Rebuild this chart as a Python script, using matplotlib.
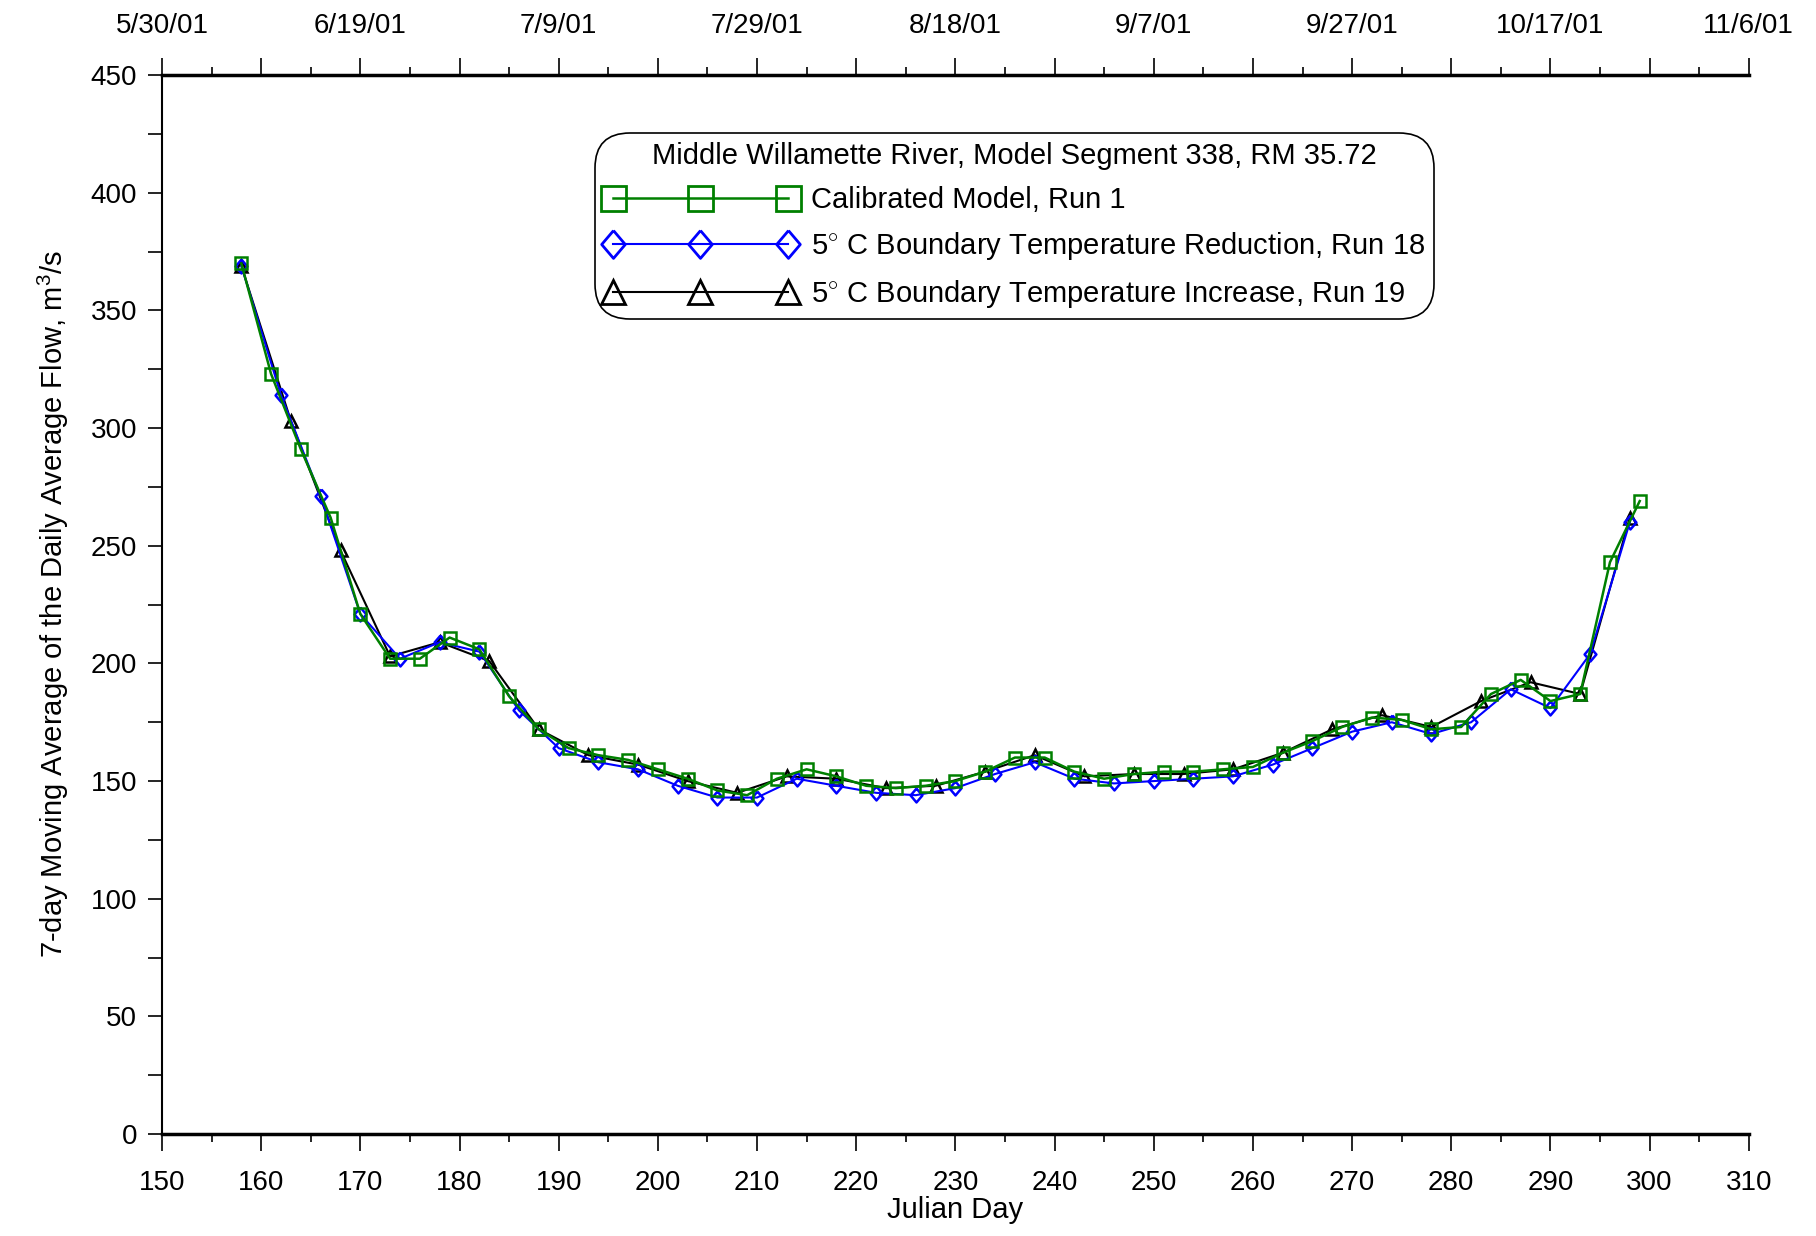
import datetime
import matplotlib
matplotlib.use("Agg")
import matplotlib.pyplot as plt
from matplotlib.lines import Line2D
from matplotlib.ticker import MultipleLocator, FuncFormatter

plt.rcParams["font.family"] = ["Liberation Sans", "DejaVu Sans"]
plt.rcParams["mathtext.fontset"] = "custom"
plt.rcParams["mathtext.rm"] = "Liberation Sans"

# Calibrated model, run 1 (green squares)
calib_days = [158, 161, 164, 167, 170, 173, 176, 179, 182, 185, 188, 191, 194,
              197, 200, 203, 206, 209, 212, 215, 218, 221, 224, 227, 230, 233,
              236, 239, 242, 245, 248, 251, 254, 257, 260, 263, 266, 269, 272,
              275, 278, 281, 284, 287, 290, 293, 296, 299]
calib_flow = [370, 323, 291, 262, 221, 202, 202, 211, 206, 186, 172, 164, 161,
              159, 155, 151, 146, 144, 151, 155, 152, 148, 147, 148, 150, 154,
              160, 160, 154, 151, 153, 154, 154, 155, 156, 162, 167, 173, 177,
              176, 172, 173, 187, 193, 184, 187, 243, 269]

# 5 C boundary temperature reduction, run 18 (blue diamonds)
cold_days = [158, 162, 166, 170, 174, 178, 182, 186, 190, 194, 198, 202, 206,
             210, 214, 218, 222, 226, 230, 234, 238, 242, 246, 250, 254, 258,
             262, 266, 270, 274, 278, 282, 286, 290, 294, 298]
cold_flow = [369, 314, 271, 221, 202, 209, 205, 180, 164, 158, 155, 148, 143,
             143, 151, 148, 145, 144, 147, 153, 158, 151, 149, 150, 151, 152,
             157, 164, 171, 175, 170, 175, 189, 181, 204, 260]

# 5 C boundary temperature increase, run 19 (black triangles)
warm_days = [158, 163, 168, 173, 178, 183, 188, 193, 198, 203, 208, 213, 218,
             223, 228, 233, 238, 243, 248, 253, 258, 263, 268, 273, 278, 283,
             288, 293, 298]
warm_flow = [369, 303, 248, 203, 209, 201, 172, 161, 157, 150, 145, 152, 151,
             147, 148, 154, 161, 152, 153, 153, 155, 162, 172, 178, 173, 184,
             192, 187, 262]

legend_title = "Middle Willamette River, Model Segment 338, RM 35.72"
labels = ["Calibrated Model, Run 1",
          r"5$^{\circ}$ C Boundary Temperature Reduction, Run 18",
          r"5$^{\circ}$ C Boundary Temperature Increase, Run 19"]

fs = 20
# slightly tall diamond like the original
diamond = [(0, 1), (0.85, 0), (0, -1), (-0.85, 0), (0, 1)]

fig = plt.figure(figsize=(18.16, 12.36), dpi=100)
ax = fig.add_axes([0.0892, 0.0825, 0.8738, 0.8567])

ax.plot(warm_days, warm_flow, color="black", lw=1.5, marker="^",
        ms=8, mfc="none", mec="black", mew=1.8, zorder=3)
ax.plot(cold_days, cold_flow, color="blue", lw=1.5, marker=diamond,
        ms=10, mfc="none", mec="blue", mew=1.8, zorder=4)
ax.plot(calib_days, calib_flow, color="green", lw=1.8, marker="s",
        ms=9, mfc="none", mec="green", mew=1.8, zorder=5)

ax.set_xlim(150, 310)
ax.set_ylim(0, 450)
ax.xaxis.set_major_locator(MultipleLocator(10))
ax.xaxis.set_minor_locator(MultipleLocator(5))
ax.yaxis.set_major_locator(MultipleLocator(50))
ax.yaxis.set_minor_locator(MultipleLocator(25))
ax.tick_params(axis="x", which="major", direction="out", length=12, width=1.2,
               labelsize=fs, pad=14)
ax.tick_params(axis="x", which="minor", direction="out", length=6, width=1.2)
ax.tick_params(axis="y", which="both", direction="out", length=10, width=1.2,
               labelsize=fs, pad=8)

for s in ["right", "top"]:
    ax.spines[s].set_visible(False)
ax.spines["left"].set_linewidth(1.5)
ax.spines["bottom"].set_linewidth(2.5)

ax.set_xlabel("Julian Day", fontsize=21, labelpad=0)
ax.set_ylabel("7-day Moving Average of the Daily Average Flow, m$^3$/s",
              fontsize=21, labelpad=14)

# top axis with calendar dates
top = ax.twiny()
top.set_xlim(150, 310)
top.xaxis.set_major_locator(MultipleLocator(10))
top.xaxis.set_minor_locator(MultipleLocator(5))


def day_to_date(x, pos):
    if int(round(x - 150)) % 20 != 0:
        return ""
    d = datetime.date(2001, 1, 1) + datetime.timedelta(days=int(round(x)) - 1)
    return f"{d.month}/{d.day}/01"


top.xaxis.set_major_formatter(FuncFormatter(day_to_date))
top.tick_params(axis="x", which="major", direction="out", length=12, width=1.2,
                labelsize=fs, pad=14)
top.tick_params(axis="x", which="minor", direction="out", length=6, width=1.2)
for s in ["right", "left", "bottom"]:
    top.spines[s].set_visible(False)
top.spines["top"].set_linewidth(2.5)

# legend uses bigger markers than the plot
h1 = Line2D([], [], color="green", lw=1.8, marker="s", ms=18, mfc="none",
            mec="green", mew=2)
h2 = Line2D([], [], color="blue", lw=1.5, marker=diamond, ms=20, mfc="none",
            mec="blue", mew=2)
h3 = Line2D([], [], color="black", lw=1.5, marker="^", ms=17, mfc="none",
            mec="black", mew=2)

leg = ax.legend([h1, h2, h3], labels, title=legend_title, loc="upper left",
                bbox_to_anchor=(0.273, 0.945), borderaxespad=0, fontsize=21,
                title_fontsize=21, numpoints=3,
                handlelength=6.6, handletextpad=0.5, labelspacing=0.55,
                borderpad=0.3, fancybox=True, framealpha=1, edgecolor="black")
leg.get_frame().set_linewidth(1.2)
leg.get_frame().set_boxstyle("round,pad=0,rounding_size=1.2")
leg.set_zorder(10)

fig.savefig("out.png", dpi=100)
